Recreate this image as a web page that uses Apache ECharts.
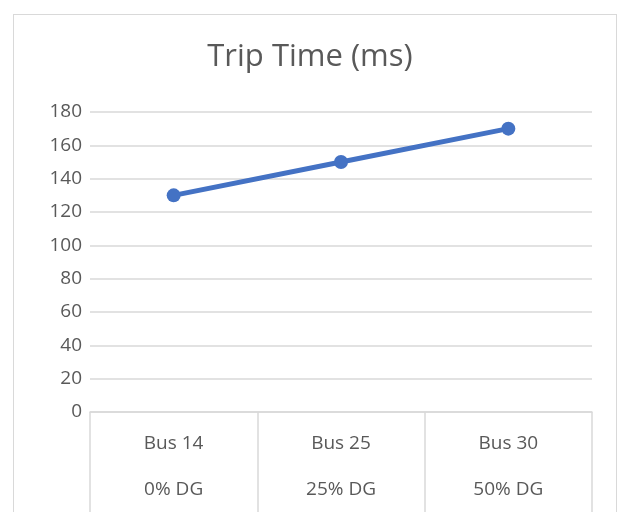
<!DOCTYPE html>
<html>
<head>
<meta charset="utf-8">
<script src="https://cdn.jsdelivr.net/npm/echarts@6/dist/echarts.min.js"></script>
<style>
  html, body { margin: 0; padding: 0; background: #fff; }
  #wrap { position: relative; width: 620px; height: 512px; overflow: hidden; }
  #frame { position: absolute; left: 13px; top: 14px; width: 604px; height: 520px; border: 1px solid #d9d9d9; box-sizing: border-box; }
  #chart { position: absolute; left: 0; top: 0; width: 620px; height: 512px; }
</style>
</head>
<body>
<div id="wrap">
  <div id="frame"></div>
  <div id="chart"></div>
</div>
<script>
// Bus and DG penetration level for each case
const buses = ['Bus 14', 'Bus 25', 'Bus 30'];
const dgLevels = ['0% DG', '25% DG', '50% DG'];
// Trip time in milliseconds
const tripTime = [130, 150, 170];
const yTicks = { min: 0, max: 180, interval: 20 };

const categories = buses.map((b, i) => b + '\n' + dgLevels[i]);

const chart = echarts.init(document.getElementById('chart'), null, { renderer: 'canvas' });
chart.setOption({
  backgroundColor: 'transparent',
  animation: false,
  title: {
    text: 'Trip Time (ms)',
    left: 'center',
    top: 37,
    textStyle: { fontFamily: 'Open Sans', fontSize: 31, fontWeight: 'normal', color: '#595959' }
  },
  grid: { left: 90, right: 28, top: 112, bottom: 100, containLabel: false, outerBoundsMode: 'none' },
  xAxis: {
    type: 'category',
    data: categories,
    boundaryGap: true,
    axisLine: { show: true, lineStyle: { color: '#d9d9d9', width: 1.5 } },
    axisTick: { show: true, alignWithLabel: false, length: 100, inside: false, lineStyle: { color: '#d9d9d9', width: 1.5 } },
    axisLabel: {
      margin: 9,
      fontFamily: 'Open Sans',
      fontSize: 19,
      color: '#595959',
      lineHeight: 46
    },
    splitLine: { show: false }
  },
  yAxis: {
    type: 'value',
    min: yTicks.min,
    max: yTicks.max,
    interval: yTicks.interval,
    axisLine: { show: false },
    axisTick: { show: false },
    axisLabel: { margin: 8, fontFamily: 'Open Sans', fontSize: 19, color: '#595959' },
    splitLine: { show: true, lineStyle: { color: '#d9d9d9', width: 1.5 } }
  },
  series: [{
    type: 'line',
    data: tripTime,
    symbol: 'circle',
    symbolSize: 14,
    lineStyle: { color: '#4472c4', width: 5 },
    itemStyle: { color: '#4472c4' }
  }]
});
</script>
</body>
</html>
